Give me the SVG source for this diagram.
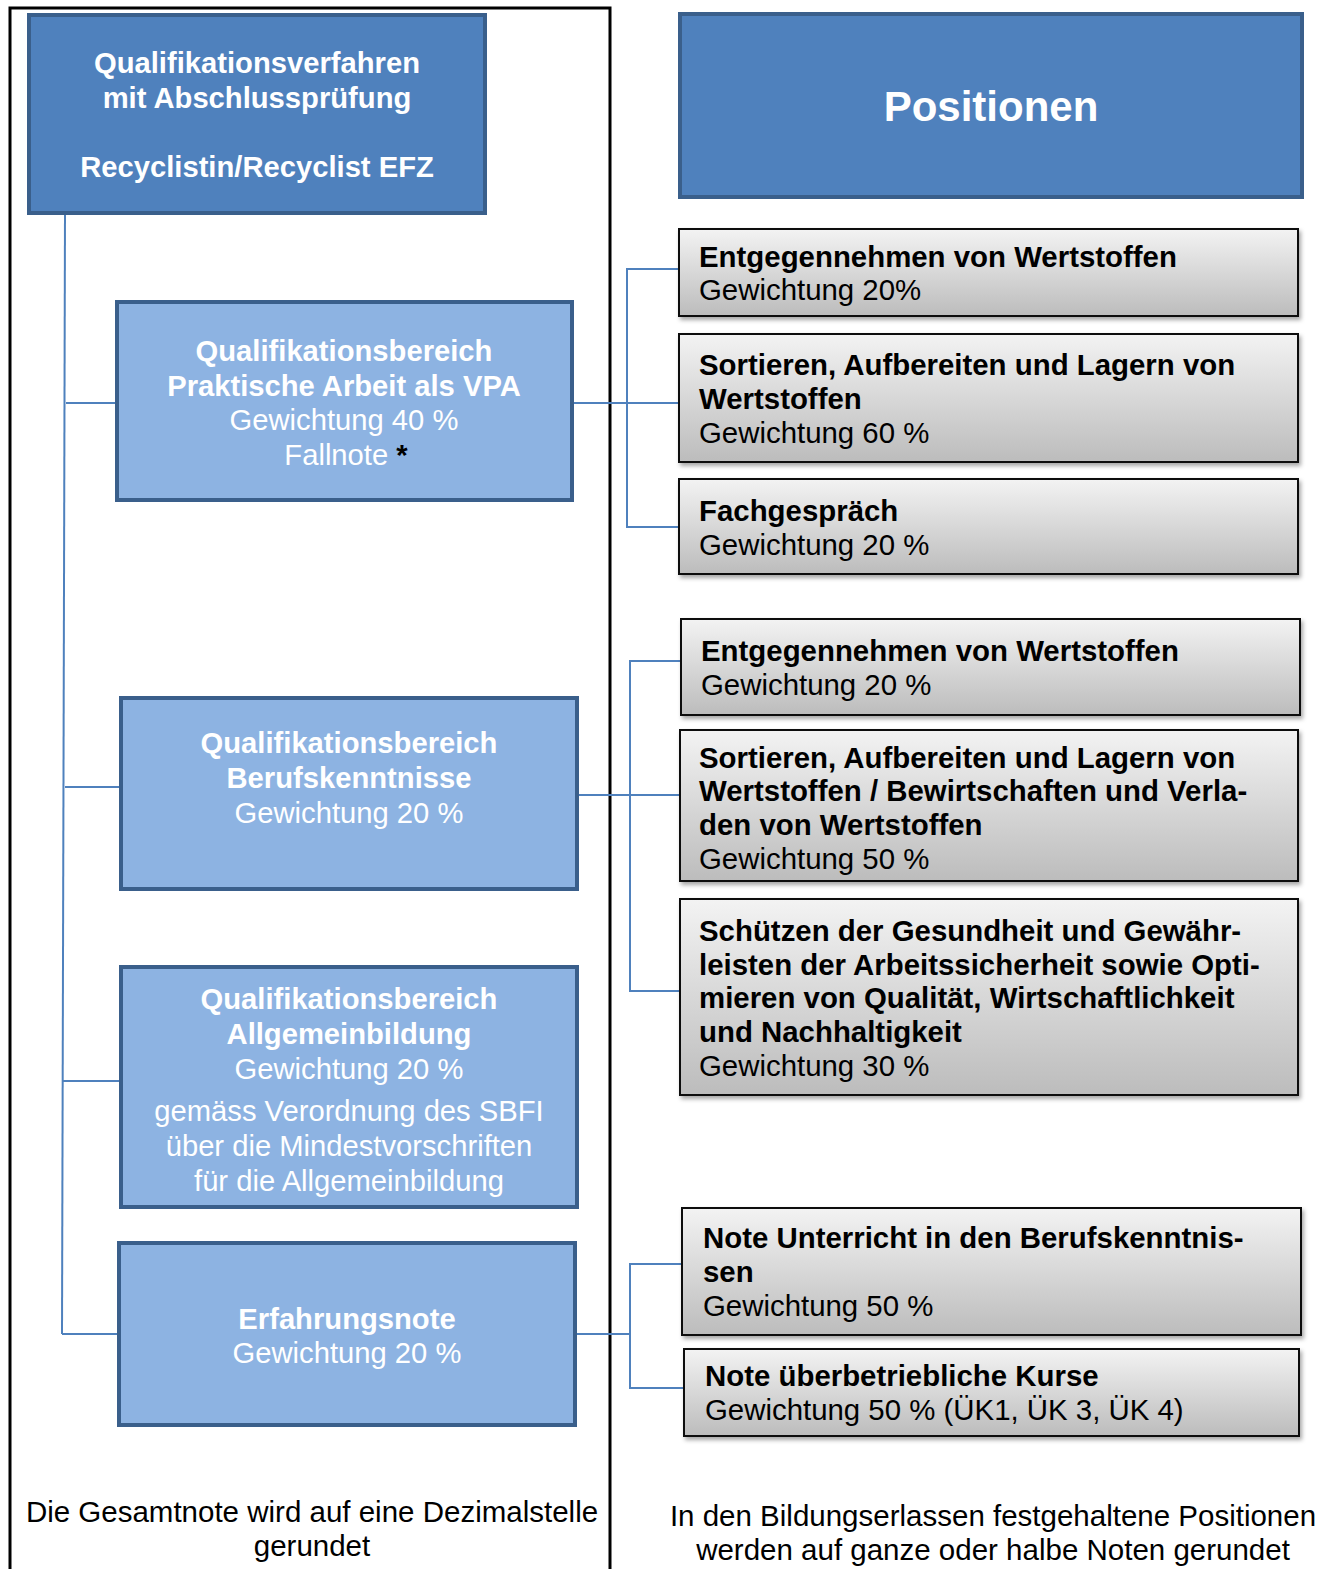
<svg xmlns="http://www.w3.org/2000/svg" width="1334" height="1569" viewBox="0 0 1334 1569">
<defs>
<linearGradient id="gr" x1="0" y1="0" x2="0" y2="1">
<stop offset="0" stop-color="#f3f3f3"/>
<stop offset="1" stop-color="#bcbcbc"/>
</linearGradient>
<filter id="sh" x="-5%" y="-5%" width="110%" height="120%">
<feDropShadow dx="2" dy="3" stdDeviation="2" flood-color="#000" flood-opacity="0.35"/>
</filter>
<style>
text{font-family:"Liberation Sans",Arial,sans-serif}
.dark{fill:#4F81BD;stroke:#3A5F8B;stroke-width:4}
.light{fill:#8DB3E2;stroke:#3A5F8B;stroke-width:4}
.gray{fill:url(#gr);stroke:#111;stroke-width:2;filter:url(#sh)}
.wb{fill:#fff;font-weight:bold;font-size:29.2px;text-anchor:middle}
.wr{fill:#fff;font-size:29.2px;text-anchor:middle}
.bb{fill:#000;font-weight:bold;font-size:29.4px}
.br{fill:#000;font-size:29.4px}
.foot{fill:#000;font-size:29.5px;text-anchor:middle}
.con{fill:none;stroke:#4F81BD;stroke-width:2}
</style>
</defs>
<rect width="1334" height="1569" fill="#fff"/>
<path d="M10,1569 V8 H610 V1569" fill="none" stroke="#000" stroke-width="3"/>

<g id="connectors">
<path class="con" d="M65,213 L62,1334"/>
<path class="con" d="M66,403 H117 M65,787 H121 M63,1081 H121 M62,1334 H119"/>
<path class="con" d="M572,403 H680 M680,269 H627 V527 H680"/>
<path class="con" d="M577,795 H680 M680,661 H630 V991 H680"/>
<path class="con" d="M575,1334 H630 M683,1264 H630 V1388 H683"/>
</g>

<g id="top">
<rect class="dark" x="29" y="15" width="456" height="198"/>
<text class="wb" x="257" y="73">Qualifikationsverfahren</text>
<text class="wb" x="257" y="108">mit Abschlussprüfung</text>
<text class="wb" x="257" y="177">Recyclistin/Recyclist EFZ</text>
</g>

<g id="positionen">
<rect class="dark" x="680" y="14" width="622" height="183"/>
<text class="wb" x="991" y="121" style="font-size:42px">Positionen</text>
</g>

<g id="qb1">
<rect class="light" x="117" y="302" width="455" height="198"/>
<text class="wb" x="344" y="361">Qualifikationsbereich</text>
<text class="wb" x="344" y="396">Praktische Arbeit als VPA</text>
<text class="wr" x="344" y="430">Gewichtung 40 %</text>
<text class="wr" x="346" y="465">Fallnote <tspan fill="#000" font-weight="bold">*</tspan></text>
</g>

<g id="qb2">
<rect class="light" x="121" y="698" width="456" height="191"/>
<text class="wb" x="349" y="753">Qualifikationsbereich</text>
<text class="wb" x="349" y="788">Berufskenntnisse</text>
<text class="wr" x="349" y="823">Gewichtung 20 %</text>
</g>

<g id="qb3">
<rect class="light" x="121" y="967" width="456" height="240"/>
<text class="wb" x="349" y="1009">Qualifikationsbereich</text>
<text class="wb" x="349" y="1044">Allgemeinbildung</text>
<text class="wr" x="349" y="1079">Gewichtung 20 %</text>
<text class="wr" x="349" y="1121">gemäss Verordnung des SBFI</text>
<text class="wr" x="349" y="1156">über die Mindestvorschriften</text>
<text class="wr" x="349" y="1191">für die Allgemeinbildung</text>
</g>

<g id="qb4">
<rect class="light" x="119" y="1243" width="456" height="182"/>
<text class="wb" x="347" y="1329">Erfahrungsnote</text>
<text class="wr" x="347" y="1363">Gewichtung 20 %</text>
</g>

<g id="r1">
<rect class="gray" x="679" y="229" width="619" height="87"/>
<text class="bb" x="699" y="267">Entgegennehmen von Wertstoffen</text>
<text class="br" x="699" y="300">Gewichtung 20%</text>
</g>
<g id="r2">
<rect class="gray" x="679" y="334" width="619" height="128"/>
<text class="bb" x="699" y="375">Sortieren, Aufbereiten und Lagern von</text>
<text class="bb" x="699" y="409">Wertstoffen</text>
<text class="br" x="699" y="443">Gewichtung 60 %</text>
</g>
<g id="r3">
<rect class="gray" x="679" y="479" width="619" height="95"/>
<text class="bb" x="699" y="521">Fachgespräch</text>
<text class="br" x="699" y="555">Gewichtung 20 %</text>
</g>
<g id="r4">
<rect class="gray" x="681" y="619" width="619" height="96"/>
<text class="bb" x="701" y="661">Entgegennehmen von Wertstoffen</text>
<text class="br" x="701" y="695">Gewichtung 20 %</text>
</g>
<g id="r5">
<rect class="gray" x="680" y="730" width="618" height="151"/>
<text class="bb" x="699" y="768">Sortieren, Aufbereiten und Lagern von</text>
<text class="bb" x="699" y="801">Wertstoffen / Bewirtschaften und Verla-</text>
<text class="bb" x="699" y="835">den von Wertstoffen</text>
<text class="br" x="699" y="869">Gewichtung 50 %</text>
</g>
<g id="r6">
<rect class="gray" x="680" y="899" width="618" height="196"/>
<text class="bb" x="699" y="941">Schützen der Gesundheit und Gewähr-</text>
<text class="bb" x="699" y="975">leisten der Arbeitssicherheit sowie Opti-</text>
<text class="bb" x="699" y="1008">mieren von Qualität, Wirtschaftlichkeit</text>
<text class="bb" x="699" y="1042">und Nachhaltigkeit</text>
<text class="br" x="699" y="1076">Gewichtung 30 %</text>
</g>
<g id="r7">
<rect class="gray" x="682" y="1208" width="619" height="127"/>
<text class="bb" x="703" y="1248">Note Unterricht in den Berufskenntnis-</text>
<text class="bb" x="703" y="1282">sen</text>
<text class="br" x="703" y="1316">Gewichtung 50 %</text>
</g>
<g id="r8">
<rect class="gray" x="684" y="1349" width="615" height="87"/>
<text class="bb" x="705" y="1386">Note überbetriebliche Kurse</text>
<text class="br" x="705" y="1420">Gewichtung 50 % (ÜK1, ÜK 3, ÜK 4)</text>
</g>

<g id="footer">
<text class="foot" x="312" y="1522">Die Gesamtnote wird auf eine Dezimalstelle</text>
<text class="foot" x="312" y="1556">gerundet</text>
<text class="foot" x="993" y="1526">In den Bildungserlassen festgehaltene Positionen</text>
<text class="foot" x="993" y="1560">werden auf ganze oder halbe Noten gerundet</text>
</g>
</svg>
